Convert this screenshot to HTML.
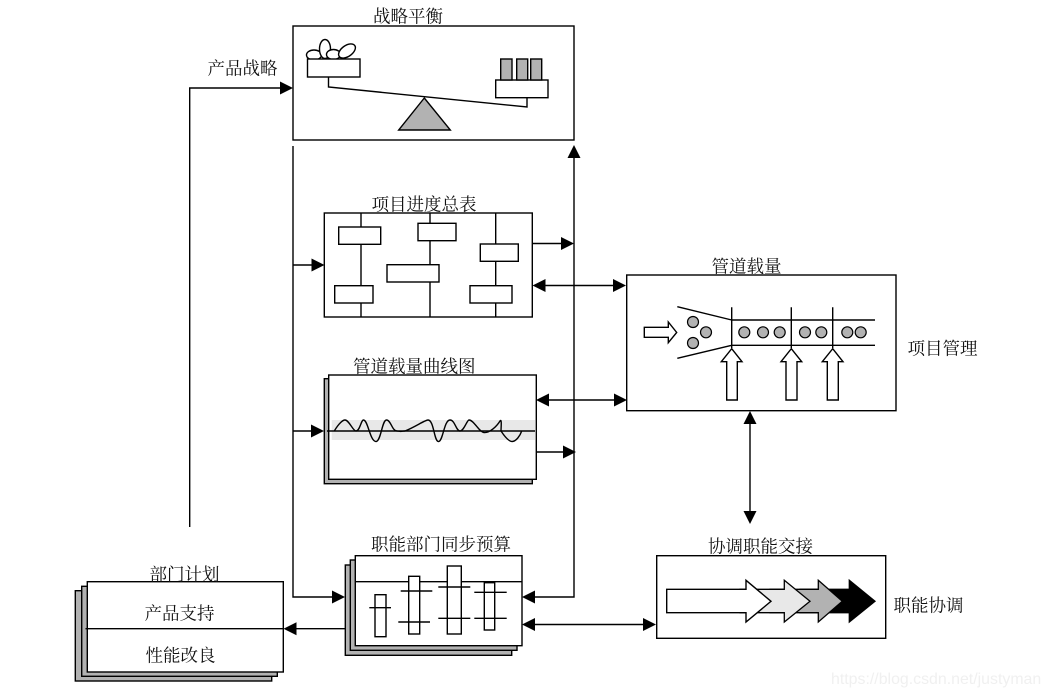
<!DOCTYPE html>
<html>
<head>
<meta charset="utf-8">
<style>
html,body{margin:0;padding:0;background:#fff;width:1047px;height:697px;overflow:hidden}
svg{display:block}
text{font-family:"Liberation Serif","Noto Serif CJK SC",serif;font-size:17.5px;fill:#111}
.l{fill:none;stroke:#000;stroke-width:1.4}
.b{fill:#fff;stroke:#000;stroke-width:1.4}
.k{fill:#000;stroke:none}
.g{fill:#b2b2b2;stroke:#000;stroke-width:1.4}
.c{fill:#b2b2b2;stroke:#000;stroke-width:1.2}
</style>
</head>
<body>
<svg width="1047" height="697" viewBox="0 0 1047 697" xmlns="http://www.w3.org/2000/svg">
<!-- connectors -->
<path class="l" d="M189.7 527V88H281"/>
<polygon class="k" points="293,88 280,81.5 280,94.5"/>
<path class="l" d="M293 146V597H333"/>
<polygon class="k" points="345,597 332,590.5 332,603.5"/>
<path class="l" d="M293 265H312"/>
<polygon class="k" points="324.5,265 311.5,258.5 311.5,271.5"/>
<path class="l" d="M293 431H312"/>
<polygon class="k" points="324,431 311,424.5 311,437.5"/>
<path class="l" d="M574 157V597H534"/>
<polygon class="k" points="574,145 567.5,158 580.5,158"/>
<polygon class="k" points="522,597 535,590.5 535,603.5"/>
<path class="l" d="M532 243.500H562"/>
<polygon class="k" points="574,243.500 561,237 561,250"/>
<path class="l" d="M535 452H564"/>
<polygon class="k" points="576,452 563,445.500 563,458.500"/>
<path class="l" d="M544 285.500H615"/>
<polygon class="k" points="532.500,285.500 545.500,279 545.500,292"/>
<polygon class="k" points="626,285.500 613,279 613,292"/>
<path class="l" d="M548 400H616"/>
<polygon class="k" points="536,400 549,393.500 549,406.500"/>
<polygon class="k" points="627,400 614,393.500 614,406.500"/>
<path class="l" d="M534 624.500H645"/>
<polygon class="k" points="522,624.500 535,618 535,631"/>
<polygon class="k" points="656,624.500 643,618 643,631"/>
<path class="l" d="M750 423V512"/>
<polygon class="k" points="750,411 743.500,424 756.500,424"/>
<polygon class="k" points="750,524 743.500,511 756.500,511"/>
<path class="l" d="M345 628.700H295"/>
<polygon class="k" points="283.500,628.700 296.500,622.200 296.500,635.200"/>

<!-- balance -->
<rect class="b" x="293" y="26" width="281" height="114"/>
<ellipse class="b" cx="314" cy="55" rx="7.500" ry="5"/>
<ellipse class="b" cx="325" cy="49" rx="5.500" ry="9.500"/>
<ellipse class="b" cx="333.500" cy="54.500" rx="7" ry="5"/>
<ellipse class="b" cx="347" cy="51" rx="9.500" ry="5.500" transform="rotate(-35 347 51)"/>
<rect class="b" x="307.500" y="59" width="52.500" height="18"/>
<path class="l" d="M328.500 77V87L527 107V97.700"/>
<rect class="b" x="495.700" y="80" width="52.300" height="17.700"/>
<rect class="g" x="500.700" y="59" width="11.300" height="21"/>
<rect class="g" x="516.700" y="59" width="11" height="21"/>
<rect class="g" x="530.700" y="59" width="11" height="21"/>
<polygon class="g" points="424.300,98 398.700,130 450.300,130"/>

<!-- schedule -->
<rect class="b" x="324.300" y="213" width="208" height="104"/>
<path class="l" d="M361 213V317M430 213V317M495.700 213V317"/>
<rect class="b" x="338.700" y="227" width="42" height="17.300"/>
<rect class="b" x="418" y="223.300" width="38" height="17.400"/>
<rect class="b" x="480.300" y="244" width="38" height="17.300"/>
<rect class="b" x="387" y="264.700" width="52" height="17.300"/>
<rect class="b" x="334.700" y="285.700" width="38.300" height="17.300"/>
<rect class="b" x="470" y="285.700" width="42" height="17.300"/>

<!-- curve chart -->
<rect class="g" x="324.300" y="378.700" width="208" height="105"/>
<rect class="b" x="328.700" y="375" width="207.600" height="104.300"/>
<rect x="331.700" y="420" width="203.300" height="20" fill="#e8e8e8"/>
<path class="l" d="M327 431H535"/>
<path class="l" d="M334.300 431C339 423 343 420 345 420C349 420 353 431 356 431C360 431 361 420 363.500 420C368 420 370 441.500 376 441.500C381 441.500 382 420 386.500 420C391 420 392 431 397 431C402 432 402 431 405 431C415 427 425 420 428 420C434 420 434 441.500 438.500 441.500C443 441.500 444 420 450 420C455 420 456 431 460 431C464 431 467 420 469 420C474 420 479 432 484 432.500C490 433 497 426 500 421C502 418 501 428 501 431C505 437 509 441.500 512 441.500C516 441.500 520 436 521.700 431"/>

<!-- pipeline -->
<rect class="b" x="626.700" y="275" width="269.300" height="135.700"/>
<path class="l" d="M677.300 306.700L731.700 320M677.300 358.300L731.700 345.300M731.700 320H875M731.700 345.300H875M731.700 307.300V348M791.300 307.300V348M832.700 307.300V348"/>
<polygon class="b" points="644.300,327.300 668.300,327.300 668.300,322 676.700,332.500 668.300,342.700 668.300,337.300 644.300,337.300"/>
<polygon class="b" points="731.700,348.700 742,361.700 737.300,361.700 737.300,400 726.700,400 726.700,361.700 721.300,361.700"/>
<polygon class="b" points="791.300,348.700 801.700,361.700 797,361.700 797,400 786,400 786,361.700 781,361.700"/>
<polygon class="b" points="832.700,348.700 843,361.700 838.300,361.700 838.300,400 827.300,400 827.300,361.700 822.300,361.700"/>
<circle class="c" cx="693" cy="322" r="5.500"/>
<circle class="c" cx="706" cy="332.300" r="5.500"/>
<circle class="c" cx="693" cy="343" r="5.500"/>
<circle class="c" cx="744.300" cy="332.300" r="5.500"/>
<circle class="c" cx="763" cy="332.300" r="5.500"/>
<circle class="c" cx="779.700" cy="332.300" r="5.500"/>
<circle class="c" cx="805" cy="332.300" r="5.500"/>
<circle class="c" cx="821.300" cy="332.300" r="5.500"/>
<circle class="c" cx="847.300" cy="332.300" r="5.500"/>
<circle class="c" cx="860.700" cy="332.300" r="5.500"/>

<!-- handoff -->
<rect class="b" x="656.700" y="555.700" width="229" height="82.600"/>
<polygon points="849.300,580.300 875,601.300 849.300,622 849.300,612.700 800,612.700 800,589.300 849.300,589.300" fill="#000" stroke="#000" stroke-width="1.300"/>
<polygon points="818.300,580.300 842.300,601.300 818.300,622 818.300,612.700 770,612.700 770,589.300 818.300,589.300" fill="#b2b2b2" stroke="#000" stroke-width="1.300"/>
<polygon points="784.300,580.300 810,601.300 784.300,622 784.300,612.700 740,612.700 740,589.300 784.300,589.300" fill="#e8e8e8" stroke="#000" stroke-width="1.300"/>
<polygon class="b" points="666.700,589.300 746,589.300 746,580.300 771,601.300 746,622 746,612.700 666.700,612.700"/>

<!-- budget -->
<rect class="g" x="345.300" y="565" width="166.400" height="90.300"/>
<rect class="g" x="350.300" y="560" width="166.700" height="90.300"/>
<rect class="b" x="355.300" y="555.700" width="166.700" height="90"/>
<path class="l" d="M355.300 581.700H522"/>
<rect class="b" x="375" y="594.700" width="11" height="42"/>
<rect class="b" x="408.700" y="576.300" width="11" height="57.700"/>
<rect class="b" x="447.300" y="566" width="14" height="68"/>
<rect class="b" x="484.300" y="582.700" width="10.400" height="47.300"/>
<path class="l" d="M369.300 607.700H391M400.700 591H432.300M398.300 622H430M438.300 587H470.300M438.300 618.300H470.300M474.300 592.300H506.700M474.300 618.300H506.700"/>

<!-- department -->
<rect class="g" x="75.300" y="590.700" width="196.400" height="90.300"/>
<rect class="g" x="81.700" y="586.300" width="195.600" height="90"/>
<rect class="b" x="87.300" y="581.700" width="196" height="90.300"/>
<path class="l" d="M85.500 628.700H283.300"/>

<!-- labels -->
<text x="373" y="22.500">战略平衡</text>
<text x="207.500" y="74.500">产品战略</text>
<text x="371.500" y="210.500">项目进度总表</text>
<text x="353" y="372.500">管道载量曲线图</text>
<text x="711.500" y="272.500">管道载量</text>
<text x="907.500" y="354.500">项目管理</text>
<text x="708" y="552.500">协调职能交接</text>
<text x="371" y="550.500">职能部门同步预算</text>
<text x="893.500" y="611.500">职能协调</text>
<text x="149.500" y="580.500">部门计划</text>
<text x="144.500" y="619.500">产品支持</text>
<text x="145.500" y="661.500">性能改良</text>
<text x="831" y="684" style="font-family:'Liberation Sans',sans-serif;font-size:15.900px;fill:#f0f0f0">https://blog.csdn.net/justyman</text>
</svg>
</body>
</html>
